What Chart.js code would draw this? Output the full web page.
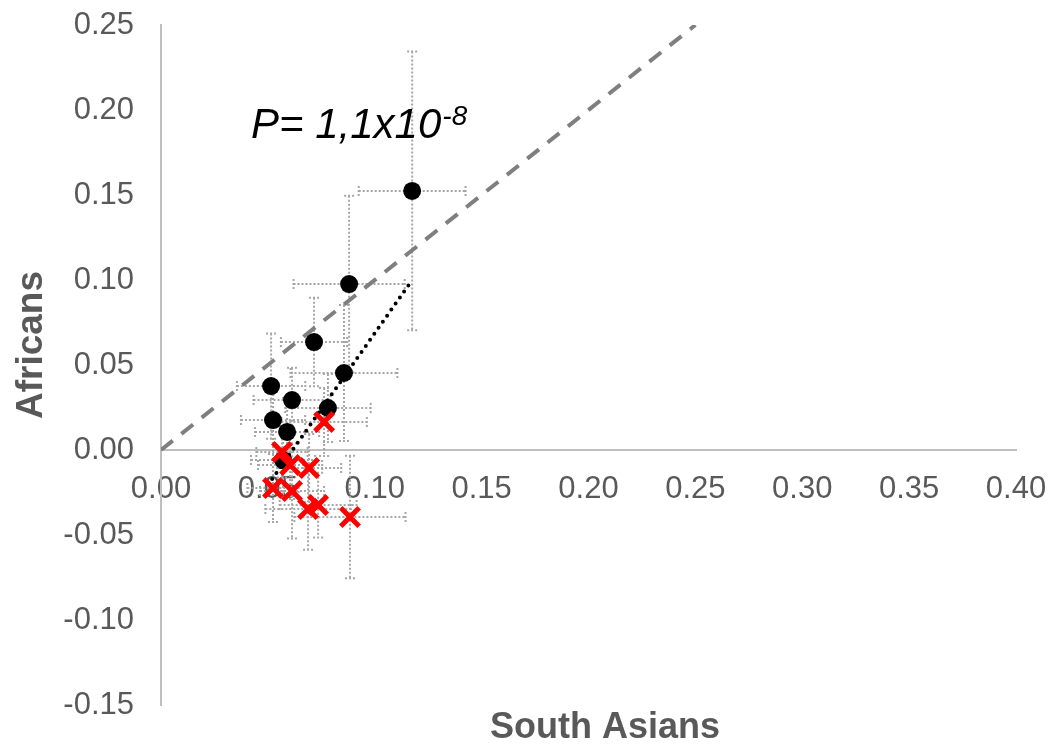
<!DOCTYPE html>
<html>
<head>
<meta charset="utf-8">
<script src="https://cdn.jsdelivr.net/npm/chart.js@4"></script>
<style>
    body { margin: 0; background: #fff; }
    #wrap { width: 1060px; height: 748px; position: relative; }
</style>
</head>
<body>
<div id="wrap"><canvas id="chart"></canvas></div>
<script>
// Black circles (x = South Asians, y = Africans) with error half-widths
const blackX = [0.1175, 0.0880, 0.0716, 0.0856, 0.0515, 0.0613, 0.0781, 0.0524, 0.0590, 0.0571];
const blackY = [0.1524, 0.0976, 0.0635, 0.0453, 0.0376, 0.0294, 0.0247, 0.0176, 0.0106, -0.0059];
const blackXErr = [0.025, 0.026, 0.0155, 0.025, 0.016, 0.018, 0.020, 0.015, 0.015, 0.015];
const blackYErr = [0.082, 0.052, 0.026, 0.040, 0.031, 0.019, 0.020, 0.020, 0.020, 0.020];

// Red crosses
const redX = [0.0763, 0.0566, 0.0604, 0.0693, 0.0524, 0.0613, 0.0688, 0.0735, 0.0884];
const redY = [0.0165, -0.0012, -0.0088, -0.0106, -0.0224, -0.0241, -0.0347, -0.0324, -0.0394];
const redXErr = [0.020, 0.012, 0.015, 0.015, 0.012, 0.015, 0.020, 0.018, 0.026];
const redYErr = [0.020, 0.015, 0.020, 0.020, 0.020, 0.028, 0.024, 0.019, 0.036];

// Identity line and regression line
const refX = [0, 0.25];
const refY = [0, 0.25];
const trendX = [0.052, 0.1165];
const trendY = [-0.0171, 0.0982];

// Axis ranges
const xRange = [0, 0.4];
const yRange = [-0.15, 0.25];
const tickStep = 0.05;

const FONT = "'Liberation Sans', Arial, sans-serif";
const GREY = '#595959';

function toPoints(xs, ys) {
    return xs.map((x, i) => ({ x: x, y: ys[i] }));
}

// Error bars drawn under the markers
const errorBars = {
    id: 'errorBars',
    beforeDatasetsDraw(chart) {
        const ctx = chart.ctx;
        const xs = chart.scales.x;
        const ys = chart.scales.y;
        const cap = 5;
        ctx.save();
        ctx.strokeStyle = '#a6a6a6';
        ctx.lineWidth = 2;
        ctx.setLineDash([2, 2]);
        chart.data.datasets.forEach(ds => {
            if (!ds.errX) return;
            ds.data.forEach((p, i) => {
                const px = xs.getPixelForValue(p.x);
                const py = ys.getPixelForValue(p.y);
                const x1 = xs.getPixelForValue(p.x - ds.errX[i]);
                const x2 = xs.getPixelForValue(p.x + ds.errX[i]);
                const y1 = ys.getPixelForValue(p.y + ds.errY[i]);
                const y2 = ys.getPixelForValue(p.y - ds.errY[i]);
                ctx.beginPath();
                ctx.moveTo(x1, py); ctx.lineTo(x2, py);
                ctx.moveTo(x1, py - cap); ctx.lineTo(x1, py + cap);
                ctx.moveTo(x2, py - cap); ctx.lineTo(x2, py + cap);
                ctx.moveTo(px, y1); ctx.lineTo(px, y2);
                ctx.moveTo(px - cap, y1); ctx.lineTo(px + cap, y1);
                ctx.moveTo(px - cap, y2); ctx.lineTo(px + cap, y2);
                ctx.stroke();
            });
        });
        ctx.restore();
    }
};

// Axis titles and P-value annotation
const labels = {
    id: 'labels',
    afterDraw(chart) {
        const ctx = chart.ctx;
        ctx.save();
        ctx.fillStyle = GREY;
        ctx.font = 'bold 36px ' + FONT;
        ctx.textAlign = 'center';
        ctx.textBaseline = 'middle';
        ctx.fillText('South Asians', 605, 728);
        ctx.font = 'bold 37px ' + FONT;
        ctx.translate(32, 345);
        ctx.rotate(-Math.PI / 2);
        ctx.fillText('Africans', 0, 0);
        ctx.restore();

        ctx.save();
        ctx.fillStyle = '#000';
        ctx.textAlign = 'left';
        ctx.textBaseline = 'alphabetic';
        ctx.font = 'italic 42px ' + FONT;
        const main = 'P= 1,1x10';
        ctx.fillText(main, 251, 138);
        const w = ctx.measureText(main).width;
        ctx.font = 'italic 28px ' + FONT;
        ctx.fillText('-8', 251 + w + 1, 125);
        ctx.restore();
    }
};

new Chart(document.getElementById('chart'), {
    type: 'scatter',
    data: {
        datasets: [
            {
                label: 'red',
                data: toPoints(redX, redY),
                errX: redXErr,
                errY: redYErr,
                pointStyle: 'crossRot',
                pointRadius: 13,
                borderColor: '#ff0000',
                borderWidth: 5,
                order: 0
            },
            {
                label: 'black',
                data: toPoints(blackX, blackY),
                errX: blackXErr,
                errY: blackYErr,
                pointStyle: 'circle',
                pointRadius: 9,
                backgroundColor: '#000',
                borderColor: '#000',
                borderWidth: 0,
                order: 1
            },
            {
                label: 'trend',
                data: toPoints(trendX, trendY),
                showLine: true,
                pointRadius: 0,
                borderColor: '#000',
                borderWidth: 4,
                borderCapStyle: 'round',
                borderDash: [0, 7.4],
                order: 2
            },
            {
                label: 'identity',
                data: toPoints(refX, refY),
                showLine: true,
                pointRadius: 0,
                borderColor: '#7f7f7f',
                borderWidth: 4,
                borderDash: [15, 11],
                order: 3
            }
        ]
    },
    options: {
        responsive: true,
        maintainAspectRatio: false,
        animation: false,
        layout: { padding: { left: 0, top: 25, right: 44, bottom: 43 } },
        plugins: {
            legend: { display: false },
            tooltip: { enabled: false }
        },
        scales: {
            x: {
                type: 'linear',
                min: xRange[0],
                max: xRange[1],
                position: { y: 0 },
                grid: { display: false, drawTicks: false },
                border: { display: true, color: '#bfbfbf', width: 2 },
                afterFit: scale => {
                    scale.paddingLeft = 0;
                    scale.paddingRight = 0;
                    scale.paddingTop = 0;
                    scale.paddingBottom = 0;
                },
                ticks: {
                    stepSize: tickStep,
                    padding: 21,
                    color: GREY,
                    font: { family: FONT, size: 31 },
                    maxRotation: 0,
                    callback: v => v.toFixed(2)
                }
            },
            y: {
                type: 'linear',
                min: yRange[0],
                max: yRange[1],
                grid: { display: false, drawTicks: false },
                border: { display: true, color: '#bfbfbf', width: 2 },
                afterFit: scale => {
                    scale.width = 161;
                    scale.paddingTop = 0;
                    scale.paddingBottom = 0;
                },
                ticks: {
                    stepSize: tickStep,
                    padding: 27,
                    color: GREY,
                    font: { family: FONT, size: 31 },
                    callback: v => v.toFixed(2)
                }
            }
        }
    },
    plugins: [errorBars, labels]
});
</script>
</body>
</html>
